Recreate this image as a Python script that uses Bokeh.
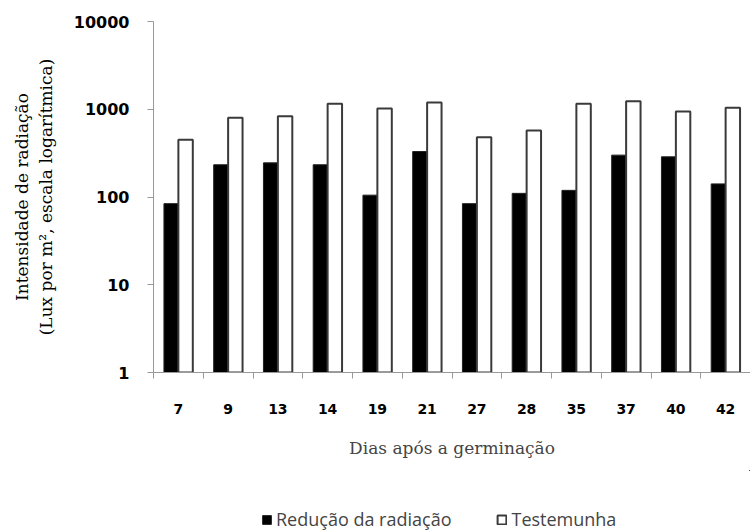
from bokeh.plotting import figure
from bokeh.layouts import column
from bokeh.models import (Range1d, FixedTicker, NumeralTickFormatter,
                          LinearAxis, Legend, LegendItem, ColumnDataSource)
from bokeh.transform import dodge
from bokeh.embed import file_html
from bokeh.resources import INLINE

dias = ["7", "9", "13", "14", "19", "21", "27", "28", "35", "37", "40", "42"]
reducao = [84, 233, 245, 233, 105, 330, 84, 110, 119, 300, 287, 141]
testemunha = [449, 798, 834, 1153, 1020, 1194, 480, 572, 1153, 1236, 942, 1038]
y_ticks = [1, 10, 100, 1000, 10000]

n = len(dias)
centers = [i + 0.5 for i in range(n)]
src = ColumnDataSource(dict(pos=centers, reducao=reducao, testemunha=testemunha))

black_style = dict(fill_color="black", line_color="#222222", line_width=1)
white_style = dict(fill_color="white", line_color="#3a3a3a", line_width=2)

p = figure(width=750, height=470, output_backend="svg", toolbar_location=None,
           x_range=Range1d(0, n), y_range=Range1d(1, 10000),
           y_axis_type="log", x_axis_location=None,
           min_border_left=153, min_border_right=0, min_border_top=21, min_border_bottom=98)
p.outline_line_color = None
p.grid.grid_line_color = None

p.vbar(x=dodge("pos", -0.145), top="reducao", bottom=1, width=0.29, source=src, **black_style)
p.vbar(x=dodge("pos", 0.145), top="testemunha", bottom=1, width=0.29, source=src, **white_style)

# y axis
ya = p.yaxis[0]
ya.ticker = FixedTicker(ticks=y_ticks, minor_ticks=[])
ya.formatter = NumeralTickFormatter(format="0")
ya.axis_line_color = "#999999"
ya.major_tick_line_color = "#999999"
ya.major_tick_out = 6
ya.major_tick_in = 0
ya.minor_tick_out = 0
ya.minor_tick_in = 0
ya.major_label_text_font = "DejaVu Sans"
ya.major_label_text_font_style = "bold"
ya.major_label_text_font_size = "16px"
ya.major_label_text_color = "black"
ya.major_label_standoff = 18
ya.axis_label = "Intensidade de radiação\n(Lux por m², escala logarítmica)"
ya.axis_label_text_font = "DejaVu Serif"
ya.axis_label_text_font_style = "normal"
ya.axis_label_text_font_size = "17px"
ya.axis_label_text_color = "black"
ya.axis_label_standoff = 15

# x axis: tick marks at category boundaries
tick_axis = LinearAxis(ticker=FixedTicker(ticks=list(range(n + 1)), minor_ticks=[]),
                       axis_line_color="#999999", major_tick_line_color="#999999",
                       major_tick_out=6, major_tick_in=0, minor_tick_out=0, minor_tick_in=0,
                       major_label_text_font_size="0px", major_label_standoff=0)
p.add_layout(tick_axis, "below")
cat_axis = LinearAxis(ticker=FixedTicker(ticks=centers, minor_ticks=[]),
                      major_label_overrides={c: d for c, d in zip(centers, dias)},
                      axis_line_color=None, major_tick_line_color=None,
                      major_tick_out=0, major_tick_in=0, minor_tick_out=0, minor_tick_in=0,
                      major_label_text_font="DejaVu Sans", major_label_text_font_style="bold",
                      major_label_text_font_size="14px", major_label_text_color="black",
                      major_label_standoff=25,
                      axis_label="Dias após a germinação",
                      axis_label_text_font="DejaVu Serif", axis_label_text_font_style="normal",
                      axis_label_text_font_size="17px", axis_label_standoff=21)
p.add_layout(cat_axis, "below")

# legend strip (its bars fall far outside the strip's ranges, only the legend shows)
lp = figure(width=750, height=61, output_backend="svg", toolbar_location=None,
            x_range=Range1d(-1000, -999), y_range=Range1d(-1000, -999),
            x_axis_location=None, y_axis_location=None,
            min_border_left=0, min_border_right=0, min_border_top=0, min_border_bottom=0)
lp.outline_line_color = None
lp.grid.grid_line_color = None
k1 = lp.vbar(x=dodge("pos", -0.145), top="reducao", bottom=1, width=0.29, source=src, **black_style)
k2 = lp.vbar(x=dodge("pos", 0.145), top="testemunha", bottom=1, width=0.29, source=src, **white_style)
legend = Legend(items=[LegendItem(label="Redução da radiação", renderers=[k1]),
                       LegendItem(label="Testemunha", renderers=[k2])],
                orientation="horizontal", location=(108, 0),
                label_text_font="Open Sans", label_text_font_size="18px",
                glyph_width=11, glyph_height=11, spacing=45, label_standoff=4,
                margin=0, padding=2,
                border_line_color=None, background_fill_alpha=0)
lp.add_layout(legend, "center")

open("out.html", "w").write(file_html(column(p, lp, spacing=0), INLINE))
